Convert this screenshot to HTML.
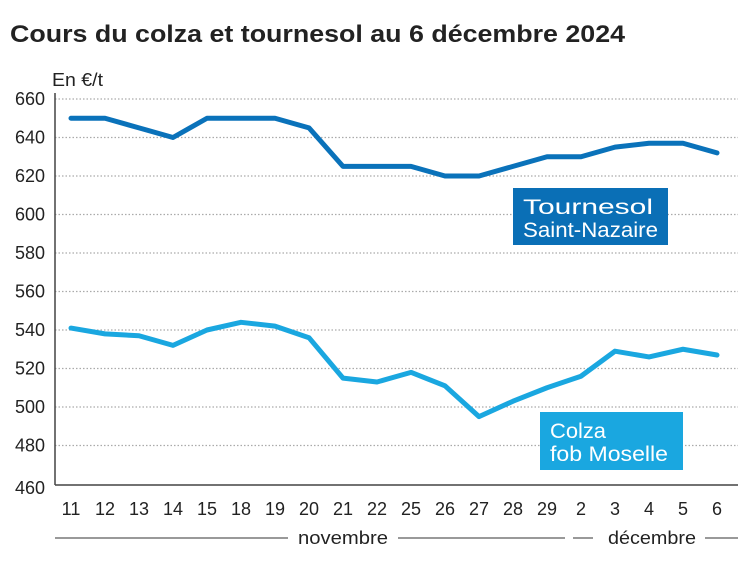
<!DOCTYPE html>
<html><head><meta charset="utf-8"><style>
body{margin:0;background:#fff;font-family:"Liberation Sans",sans-serif;}
svg text{font-family:"Liberation Sans",sans-serif;}
</style></head><body>
<svg id="c" width="747" height="558" xmlns="http://www.w3.org/2000/svg">
<text x="10" y="42" font-size="24" font-weight="bold" fill="#222" textLength="615" lengthAdjust="spacingAndGlyphs">Cours du colza et tournesol au 6 décembre 2024</text>
<text x="52" y="86" font-size="18" fill="#222" textLength="51" lengthAdjust="spacingAndGlyphs">En €/t</text>
<g id="grid"></g><g id="ylab"></g><g id="xlab"></g><g id="lines"></g>
<line x1="55" y1="93" x2="55" y2="485" stroke="#444" stroke-width="1.5"/>
<line x1="55" y1="485" x2="738" y2="485" stroke="#444" stroke-width="1.5"/>
<g stroke="#333" stroke-width="1">
<line x1="55" y1="538" x2="288" y2="538"/><line x1="398" y1="538" x2="565" y2="538"/>
<line x1="573" y1="538" x2="593" y2="538"/><line x1="705" y1="538" x2="738" y2="538"/></g>
<text x="298" y="544" font-size="18" fill="#222" textLength="90" lengthAdjust="spacingAndGlyphs">novembre</text>
<text x="608" y="544" font-size="18" fill="#222" textLength="88" lengthAdjust="spacingAndGlyphs">décembre</text>
<rect x="513" y="188" width="155" height="57" fill="#0a6fb6"/>
<text x="523" y="214" font-size="21" fill="#fff" textLength="130" lengthAdjust="spacingAndGlyphs">Tournesol</text>
<text x="523" y="237" font-size="21" fill="#fff" textLength="135" lengthAdjust="spacingAndGlyphs">Saint-Nazaire</text>
<rect x="540" y="412" width="143" height="58" fill="#1aa7e0"/>
<text x="550" y="438" font-size="21" fill="#fff" textLength="56" lengthAdjust="spacingAndGlyphs">Colza</text>
<text x="550" y="461" font-size="21" fill="#fff" textLength="118" lengthAdjust="spacingAndGlyphs">fob Moselle</text>
</svg>
<script>
const categories=["11","12","13","14","15","18","19","20","21","22","25","26","27","28","29","2","3","4","5","6"];
const tournesol=[650,650,645,640,650,650,650,645,625,625,625,620,620,625,630,630,635,637,637,632];
const colza=[541,538,537,532,540,544,542,536,515,513,518,511,495,503,510,516,529,526,530,527];
const yTicks=[460,480,500,520,540,560,580,600,620,640,660];
const NS="http://www.w3.org/2000/svg";
function x(i){return 71+i*(717-71)/(categories.length-1);}
function y(v){return 99+(660-v)*385/200;}
function mk(t,a,p){const e=document.createElementNS(NS,t);for(const k in a)e.setAttribute(k,a[k]);document.getElementById(p).appendChild(e);return e;}
yTicks.forEach(v=>{
  if(v>460){const g=mk('line',{x1:55,x2:738,y1:y(v),y2:y(v),stroke:'#aaa','stroke-width':1.2,'stroke-dasharray':'1.5 2'},'grid');
  
  }
  const t=mk('text',{x:45,y:y(v)+(v==460?10:6),'font-size':18,'text-anchor':'end',fill:'#222'},'ylab');
  t.textContent=v;
  
  
});
categories.forEach((c,i)=>{
  const t=mk('text',{x:x(i),y:515,'font-size':18,'text-anchor':'middle',fill:'#222'},'xlab');
  t.textContent=c;
  
  
});
function line(d,col,name){
  const p=mk('polyline',{points:d.map((v,i)=>x(i)+','+y(v)).join(' '),fill:'none',stroke:col,'stroke-width':5,'stroke-linejoin':'round','stroke-linecap':'round'},'lines');
  
  
}
line(tournesol,'#0a72ba','tournesol-line');
line(colza,'#1aa7e0','colza-line');
</script>
</body></html>
